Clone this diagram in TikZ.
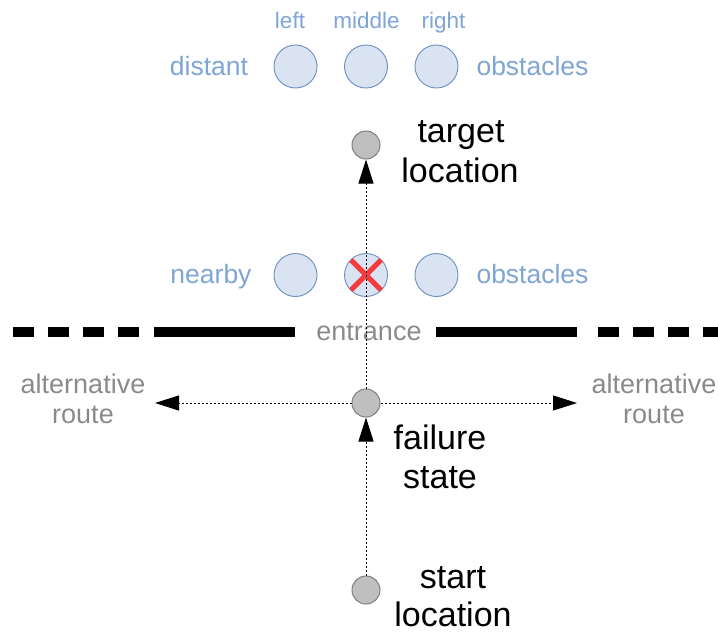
\documentclass[tikz,border=0pt]{standalone}
\usepackage{fontspec}
\setmainfont{Liberation Sans}
\usetikzlibrary{arrows.meta}

\definecolor{obstfill}{HTML}{DAE3F2}
\definecolor{obstdraw}{HTML}{6C8EBF}
\definecolor{bluetext}{HTML}{7EA5D6}
\definecolor{graytext}{HTML}{8A8A8A}
\definecolor{statefill}{HTML}{BFBFBF}
\definecolor{statedraw}{HTML}{7F7F7F}
\definecolor{crossred}{HTML}{F53B3B}

\tikzset{
  obstacle/.style={circle, minimum size=43pt, inner sep=0pt, fill=obstfill, draw=obstdraw, line width=0.9pt},
  statenode/.style={circle, minimum size=28pt, inner sep=0pt, fill=statefill, draw=statedraw, line width=1pt},
  bluelabel/.style={anchor=base, inner sep=0pt, text=bluetext, font=\fontsize{26.5}{32}\selectfont},
  posnlabel/.style={anchor=base, inner sep=0pt, text=bluetext, font=\fontsize{22.5}{27}\selectfont},
  graylabel/.style={anchor=base, inner sep=0pt, text=graytext, font=\fontsize{27}{32}\selectfont},
  blacklabel/.style={anchor=base, inner sep=0pt, text=black, font=\fontsize{34}{40}\selectfont},
  route/.style={line width=1pt, dash pattern=on 2pt off 2pt, -{Triangle[length=24pt,width=15pt]}},
  wall/.style={line width=9.5pt, black},
  cross/.style={line width=5pt, crossred}
}

\begin{document}
\begin{tikzpicture}[x=1pt, y=-1pt]
\useasboundingbox (0,0) rectangle (718,632);

% distant obstacle row
\node[posnlabel] (lleft)  at (290,28)  {left};
\node[posnlabel] (lmid)   at (366.5,28) {middle};
\node[posnlabel] (lright) at (443.5,28) {right};
\node[obstacle] (dl) at (295.5,66.5) {};
\node[obstacle] (dm) at (366,66.5) {};
\node[obstacle] (dr) at (436.5,66.5) {};
\node[bluelabel] (distant) at (209,75) {distant};
\node[bluelabel] (dobst) at (532.5,75) {obstacles};

% nearby obstacle row, the middle one blocked
\node[obstacle] (nl) at (295.5,275) {};
\node[obstacle] (nm) at (366,275) {};
\node[obstacle] (nr) at (436.5,275) {};
\node[bluelabel] (nearby) at (211,283) {nearby};
\node[bluelabel] (nobst) at (532.5,283) {obstacles};
\draw[cross] ([shift={(-15,-15)}]nm.center) -- ([shift={(15,15)}]nm.center);
\draw[cross] ([shift={(15,-15)}]nm.center) -- ([shift={(-15,15)}]nm.center);

% wall with the entrance gap
\draw[wall, dash pattern=on 21pt off 14pt] (13,332) -- (140,332);
\draw[wall] (154,332) -- (295,332);
\draw[wall] (436,332) -- (577,332);
\draw[wall, dash pattern=on 21pt off 14pt] (598,332) -- (718,332);
\node[graylabel] (entrance) at (369,340) {entrance};

% states
\node[statenode] (target) at (366,145) {};
\node[statenode] (fail)   at (366,403) {};
\node[statenode] (start)  at (366,590) {};

\node[blacklabel] (t1) at (461,142) {target};
\node[blacklabel] (t2) at (460,182) {location};
\node[blacklabel] (f1) at (440,449) {failure};
\node[blacklabel] (f2) at (440,488) {state};
\node[blacklabel] (s1) at (453,588) {start};
\node[blacklabel] (s2) at (453,626) {location};

% alternative routes
\node[graylabel] (al1) at (83,393) {alternative};
\node[graylabel] (al2) at (83,423) {route};
\node[graylabel] (ar1) at (654,393) {alternative};
\node[graylabel] (ar2) at (654,423) {route};
\coordinate (leftend)  at (155,403);
\coordinate (rightend) at (577,403);

% paths
\draw[route] (start) -- (fail);
\draw[route] (fail) -- (target);
\draw[route] (fail) -- (leftend);
\draw[route] (fail) -- (rightend);
\end{tikzpicture}
\end{document}
